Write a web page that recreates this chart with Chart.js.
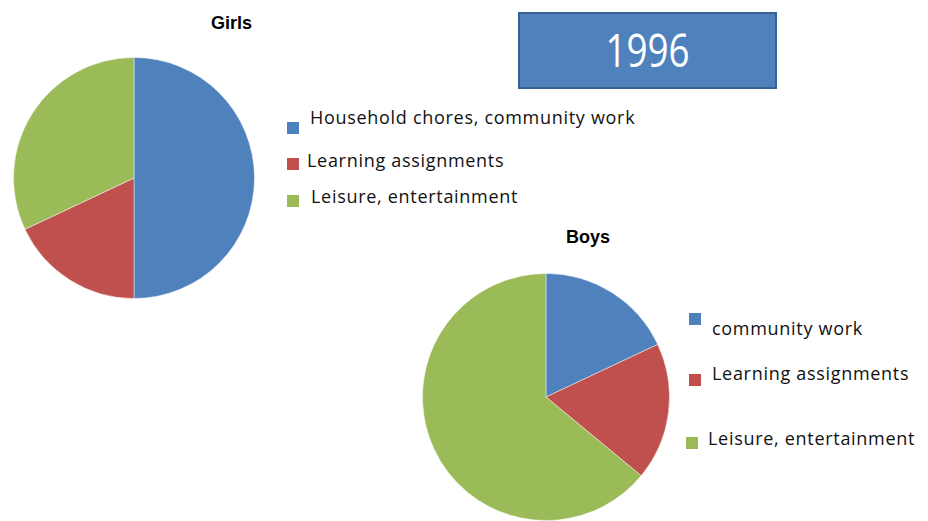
<!DOCTYPE html>
<html>
<head>
<meta charset="utf-8">
<script src="https://cdn.jsdelivr.net/npm/chart.js@4.4.1/dist/chart.umd.min.js"></script>
<style>
  html, body { margin: 0; padding: 0; background: #fff; }
  body { width: 928px; height: 521px; position: relative; overflow: hidden; }
  canvas { position: absolute; }
  .title { position: absolute; font: bold 18px "Liberation Sans", Arial, sans-serif; line-height: 18px; color: #000; }
  .box { position: absolute; left: 518px; top: 12px; width: 255px; height: 73px; background: #4f81bd; border: 2px solid #3a6291; }
  .box span { position: absolute; left: 0; right: 0; top: 12px; text-align: center; font: 46px "Open Sans", sans-serif; line-height: 46px; color: #fff; transform: scaleX(0.8); }
  .item { position: absolute; font: 18px "Open Sans", sans-serif; line-height: 18px; letter-spacing: 0.7px; color: #111; white-space: nowrap; }
  .swatch { position: absolute; width: 12px; height: 12px; }
</style>
</head>
<body>
<div class="title" style="left:211px; top:14px;">Girls</div>
<div class="title" style="left:566px; top:228px;">Boys</div>
<div class="box"><span>1996</span></div>
<canvas id="GirlsChart" width="242" height="242" style="left:13px; top:57px;"></canvas>
<canvas id="BoysChart" width="248" height="248" style="left:422px; top:273px;"></canvas>
<div id="GirlsLegend"></div>
<div id="BoysLegend"></div>
<script>
let GirlsLabels = ["Household chores, community work", "Learning assignments", "Leisure, entertainment"];
let BoysLabels = ["community work", "Learning assignments", "Leisure, entertainment"];
let GirlsShare = [50, 18, 32];
let BoysShare = [18, 18, 64];

const blue = "#4f81bd";
const red = "#c0504d";
const green = "#9bbb59";
const sliceColors = [blue, red, green];

// where each legend row sits: [swatch x, swatch y, text x, text top]
const girlsLegendRows = [[287, 122, 310, 108], [287, 158, 307, 151], [287, 195, 311, 187]];
const boysLegendRows = [[689, 313, 712, 319], [689, 374, 712, 364], [686, 437, 708, 429]];

createCharts()

function pieOptions(){
    return {
        responsive: false,
        animation: false,
        layout: {padding: 0},
        plugins: {
            legend: {display: false},
            tooltip: {enabled: false},
            title: {display: false}
        }
    };
}

function buildLegend(id, labels, rows){
    let holder = document.getElementById(id);
    labels.forEach(function(label, i){
        let sw = document.createElement("div");
        sw.className = "swatch";
        sw.style.left = rows[i][0] + "px";
        sw.style.top = rows[i][1] + "px";
        sw.style.background = sliceColors[i];
        holder.appendChild(sw);
        let txt = document.createElement("div");
        txt.className = "item";
        txt.style.left = rows[i][2] + "px";
        txt.style.top = rows[i][3] + "px";
        txt.textContent = label;
        holder.appendChild(txt);
    });
}

function createCharts(){
    new Chart("GirlsChart", {
        type: "pie",
        data: {
            labels: GirlsLabels,
            datasets: [{
                backgroundColor: sliceColors,
                borderColor: "rgba(255,255,255,0.45)",
                borderWidth: 1,
                hoverOffset: 0,
                data: GirlsShare
            }]
        },
        options: pieOptions()
    });

    new Chart("BoysChart", {
        type: "pie",
        data: {
            labels: BoysLabels,
            datasets: [{
                backgroundColor: sliceColors,
                borderColor: "rgba(255,255,255,0.45)",
                borderWidth: 1,
                hoverOffset: 0,
                data: BoysShare
            }]
        },
        options: pieOptions()
    });

    buildLegend("GirlsLegend", GirlsLabels, girlsLegendRows);
    buildLegend("BoysLegend", BoysLabels, boysLegendRows);
}
</script>
</body>
</html>
